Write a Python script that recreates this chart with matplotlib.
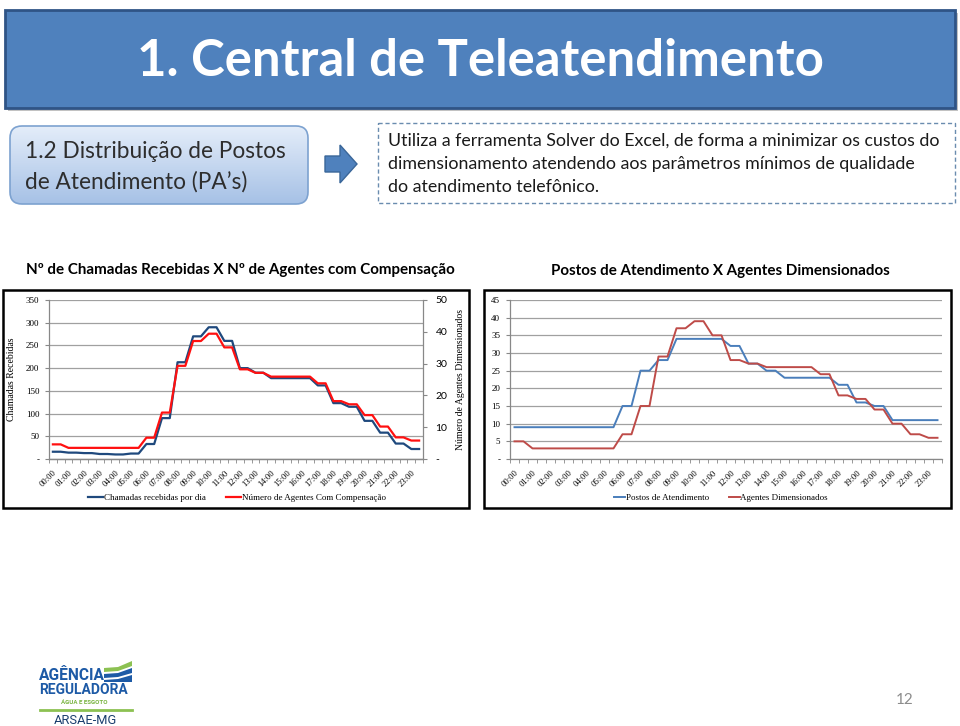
import numpy as np
import matplotlib.pyplot as plt
from matplotlib.patches import Rectangle, FancyBboxPatch, Polygon
from matplotlib.lines import Line2D
from matplotlib.colors import LinearSegmentedColormap

# valores por hora (cada hora aparece em dois pontos de meia hora no grafico)
horas = [f"{h:02d}:00" for h in range(24)]
chamadas = [16, 14, 13, 11, 10, 12, 33, 90, 213, 270, 290, 260,
            200, 190, 178, 178, 178, 162, 123, 115, 84, 58, 34, 22]
agentes_comp = [4.6, 3.5, 3.5, 3.5, 3.5, 3.5, 6.7, 14.6, 29.3, 37.1, 39.4, 35.1,
                28.2, 27.1, 25.9, 25.9, 25.9, 23.8, 18.2, 17.2, 13.8, 10.2, 6.8, 5.8]
postos = [9, 9, 9, 9, 9, 9, 15, 25, 28, 34, 34, 34,
          32, 27, 25, 23, 23, 23, 21, 16, 15, 11, 11, 11]
agentes_dim = [5, 3, 3, 3, 3, 3, 7, 15, 29, 37, 39, 35,
               28, 27, 26, 26, 26, 24, 18, 17, 14, 10, 7, 6]

SANS = ['Lato', 'DejaVu Sans']
SERIF = ['Liberation Serif', 'DejaVu Serif']
W, H = 960, 726

fig = plt.figure(figsize=(9.6, 7.26), dpi=100)
bg = fig.add_axes([0, 0, 1, 1])
bg.set_xlim(0, W)
bg.set_ylim(H, 0)
bg.axis('off')


def px(x0, y0, x1, y1):
    return [x0 / W, 1 - y1 / H, (x1 - x0) / W, (y1 - y0) / H]


# faixa do titulo
bg.add_patch(Rectangle((8, 13), 950, 98, fc='#9a9a9a', ec='none', alpha=0.6))
bg.add_patch(Rectangle((5, 10), 950, 98, fc='#4F81BD', ec='#2F5486', lw=2))
bg.text(480, 62, '1. Central de Teleatendimento', color='white', fontsize=36.6,
        fontweight='bold', family=SANS, ha='center', va='center')

# caixa arredondada com degrade
box = FancyBboxPatch((10, 126), 298, 78, boxstyle='round,pad=0,rounding_size=12',
                     fc='none', ec='#7DA2D0', lw=1.2, zorder=3)
bg.add_patch(box)
cm = LinearSegmentedColormap.from_list('caixa', ['#E4EDF9', '#A6C1E6'])
im = bg.imshow(np.linspace(0, 1, 100).reshape(-1, 1), cmap=cm,
               extent=[10, 308, 204, 126], aspect='auto', zorder=2)
im.set_clip_path(box)
bg.text(25, 151, '1.2 Distribuição de Postos', fontsize=16.3, family=SANS,
        color='#2e2e2e', va='center', zorder=4)
bg.text(25, 182, 'de Atendimento (PA’s)', fontsize=16.3, family=SANS,
        color='#2e2e2e', va='center', zorder=4)

# seta
bg.add_patch(Polygon([(325, 156), (340, 156), (340, 145), (357, 164),
                      (340, 183), (340, 172), (325, 172)],
                     fc='#4F81BD', ec='#3A6699', lw=1))

# caixa tracejada
bg.add_patch(Rectangle((378, 123), 577, 80, fill=False, ec='#6A8CAF', lw=1,
                       ls=(0, (3, 2))))
linhas = ['Utiliza a ferramenta Solver do Excel, de forma a minimizar os custos do',
          'dimensionamento atendendo aos parâmetros mínimos de qualidade',
          'do atendimento telefônico.']
for i, t in enumerate(linhas):
    bg.text(388, 141 + i * 23, t, fontsize=12.75, family=SANS, color='#1a1a1a',
            va='center')

# titulos dos graficos
bg.text(240, 270, 'Nº de Chamadas Recebidas X Nº de Agentes com Compensação',
        fontsize=10.9, fontweight='bold', family=SANS, ha='center', va='center')
bg.text(720, 271, 'Postos de Atendimento X Agentes Dimensionados',
        fontsize=10.9, fontweight='bold', family=SANS, ha='center', va='center')

# molduras
bg.add_patch(Rectangle((3, 290), 466, 218, fill=False, ec='black', lw=1.8))
bg.add_patch(Rectangle((484, 290), 467, 218, fill=False, ec='black', lw=1.8))

x = np.arange(48) / 2
cats = np.arange(24)
grid_c = '#A0A0A0'
axis_c = '#888888'


def estilo(ax, yticks, ylabels, fam=SERIF, fs=6.5):
    ax.set_xlim(-0.25, 23.75)
    ax.set_xticks(cats)
    ax.set_xticklabels(horas, rotation=45, ha='right', rotation_mode='anchor',
                       family=SERIF, fontsize=6.2)
    ax.set_xticks(np.arange(-0.25, 23.8, 0.5), minor=True)
    ax.tick_params(axis='x', which='major', length=0, pad=7)
    ax.tick_params(axis='x', which='minor', length=3, color=axis_c)
    ax.set_yticks(yticks)
    ax.set_yticklabels(ylabels, family=fam, fontsize=fs)
    ax.tick_params(axis='y', length=3, color=axis_c, pad=4)
    for s in ax.spines.values():
        s.set_color(axis_c)
        s.set_linewidth(0.9)
    ax.spines['top'].set_visible(False)


# grafico 1
ax1 = fig.add_axes(px(49, 300, 423, 459))
ax1.plot(x, np.repeat(chamadas, 2), color='#1F497D', lw=1.6)
ax1.set_ylim(0, 350)
estilo(ax1, range(0, 351, 50), ['-'] + [str(v) for v in range(50, 351, 50)])
ax1.spines['right'].set_visible(False)
ax1.yaxis.grid(True, color=grid_c, lw=0.9)
ax1.set_axisbelow(True)
ax1.set_ylabel('Chamadas Recebidas', family=SERIF, fontsize=7)
ax1.yaxis.set_label_coords(-0.088, 0.5)

ax1b = ax1.twinx()
ax1b.plot(x, np.repeat(agentes_comp, 2), color='#FF1010', lw=1.6)
ax1b.set_ylim(0, 50)
estilo(ax1b, range(0, 51, 10), ['-'] + [str(v) for v in range(10, 51, 10)],
       fam=SANS, fs=7.5)
ax1b.spines['left'].set_visible(False)
ax1b.tick_params(axis='y', pad=6)
ax1b.set_ylabel('Número de Agentes Dimensionados', family=SERIF, fontsize=7,
                rotation=90)
ax1b.yaxis.set_label_coords(1.088, 0.5)

fig.legend(handles=[Line2D([], [], color='#1F497D', lw=1.6),
                    Line2D([], [], color='#FF1010', lw=1.6)],
           labels=['Chamadas recebidas por dia', 'Número de Agentes Com Compensação'],
           loc='center', bbox_to_anchor=(237 / W, 1 - 498 / H), ncol=2,
           frameon=False, prop={'family': SERIF, 'size': 6.5},
           handlelength=1.7, handletextpad=0.1, columnspacing=2.2)

# grafico 2
ax2 = fig.add_axes(px(510, 300, 942, 459))
ax2.plot(x, np.repeat(postos, 2), color='#4A7EBB', lw=1.4)
ax2.plot(x, np.repeat(agentes_dim, 2), color='#BE4B48', lw=1.4)
ax2.set_ylim(0, 45)
estilo(ax2, range(0, 46, 5), ['-'] + [str(v) for v in range(5, 46, 5)])
ax2.spines['right'].set_visible(False)
ax2.yaxis.grid(True, color=grid_c, lw=0.9)
ax2.set_axisbelow(True)

fig.legend(handles=[Line2D([], [], color='#4A7EBB', lw=1.4),
                    Line2D([], [], color='#BE4B48', lw=1.4)],
           labels=['Postos de Atendimento', 'Agentes Dimensionados'],
           loc='center', bbox_to_anchor=(721 / W, 1 - 498 / H), ncol=2,
           frameon=False, prop={'family': SERIF, 'size': 6.5},
           handlelength=1.2, handletextpad=0.1, columnspacing=2.2)

# logo
LOGO = ['Roboto', 'DejaVu Sans']
bg.add_patch(Polygon([(104, 668), (118, 667), (132, 661), (132, 666), (118, 671), (104, 672)],
                     fc='#8CC152', ec='none'))
bg.add_patch(Polygon([(104, 674), (118, 673), (132, 668), (132, 673), (118, 677), (104, 678)],
                     fc='#1D5AA6', ec='none'))
bg.add_patch(Polygon([(104, 680), (118, 679), (132, 675), (132, 682), (104, 682)],
                     fc='#1D5AA6', ec='none'))
bg.text(39, 675, 'AGÊNCIA', family=LOGO, fontweight='bold', fontsize=11.2,
        color='#1D5AA6', va='center')
bg.text(39, 690, 'REGULADORA', family=LOGO, fontweight='bold', fontsize=10,
        color='#1D5AA6', va='center')
bg.text(84, 703, 'ÁGUA E ESGOTO', family=LOGO, fontweight='bold', fontsize=4.4,
        color='#77B33E', ha='center', va='center')
bg.plot([40, 132], [710, 710], color='#8CC152', lw=2)
bg.text(85, 720, 'ARSAE-MG', family=LOGO, fontsize=9.3, color='#1A3E6E',
        ha='center', va='center')

bg.text(905, 700, '12', color='#8C8C8C', fontsize=11, family=SANS,
        ha='center', va='center')

bg.set_xlim(0, W)
bg.set_ylim(H, 0)
fig.savefig('out.png', dpi=100)
